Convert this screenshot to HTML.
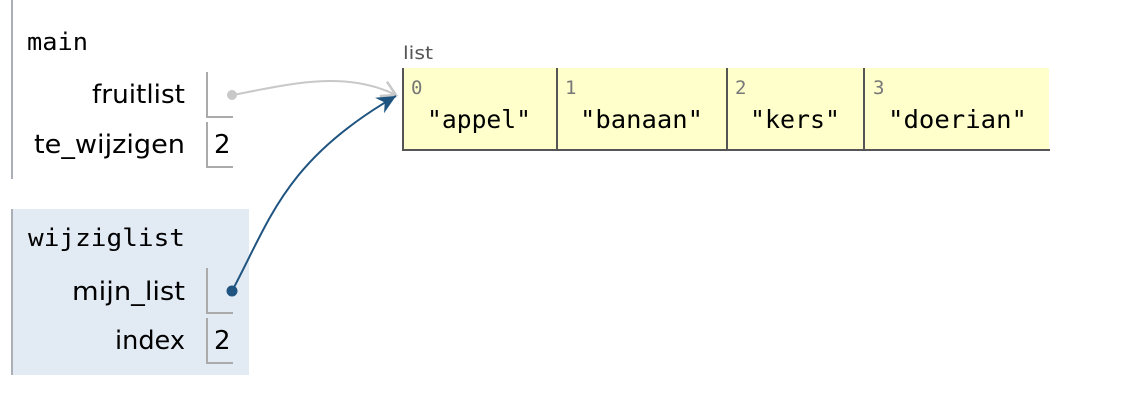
<!DOCTYPE html>
<html><head><style>html,body{margin:0;padding:0;background:#fff;width:1136px;height:418px;overflow:hidden}</style></head>
<body>
<svg width="1136" height="418" xmlns="http://www.w3.org/2000/svg">
<defs>
<marker id="ag" viewBox="0 0 20 20" markerWidth="20" markerHeight="20" refX="17" refY="10" orient="auto" markerUnits="userSpaceOnUse"><path d="M3,2 L17,10 L3,18" fill="none" stroke="#c8c8c8" stroke-width="2.5"/></marker>
<marker id="ab" viewBox="0 0 22 22" markerWidth="22" markerHeight="22" refX="20" refY="11" orient="auto" markerUnits="userSpaceOnUse"><path d="M1,2 L20,11 L1,20 L7,11 Z" fill="#1f5480"/></marker>
</defs>
<rect x="11" y="0" width="2" height="179" fill="#aab0b5"/>
<text x="27" y="50" font-family="DejaVu Sans Mono, Liberation Mono, monospace" font-size="24" textLength="61" lengthAdjust="spacingAndGlyphs">main</text>
<text x="185" y="103" text-anchor="end" font-family="DejaVu Sans, Liberation Sans, sans-serif" font-size="26" textLength="93" lengthAdjust="spacingAndGlyphs">fruitlist</text>
<text x="185" y="153" text-anchor="end" font-family="DejaVu Sans, Liberation Sans, sans-serif" font-size="26" textLength="151" lengthAdjust="spacingAndGlyphs">te_wijzigen</text>
<path d="M207,72 V117 H233" fill="none" stroke="#aaa" stroke-width="2"/>
<path d="M207,122 V167 H233" fill="none" stroke="#aaa" stroke-width="2"/>
<text x="214" y="153" font-family="DejaVu Sans, Liberation Sans, sans-serif" font-size="26">2</text>
<rect x="11" y="209" width="238" height="166" fill="#e2eaf4"/>
<rect x="11" y="209" width="2" height="166" fill="#aab0b5"/>
<text x="28" y="246" font-family="DejaVu Sans Mono, Liberation Mono, monospace" font-size="24" textLength="157" lengthAdjust="spacingAndGlyphs">wijziglist</text>
<text x="185" y="300" text-anchor="end" font-family="DejaVu Sans, Liberation Sans, sans-serif" font-size="26" textLength="113" lengthAdjust="spacingAndGlyphs">mijn_list</text>
<text x="185" y="349" text-anchor="end" font-family="DejaVu Sans, Liberation Sans, sans-serif" font-size="26" textLength="70" lengthAdjust="spacingAndGlyphs">index</text>
<path d="M207,268 V313 H233" fill="none" stroke="#aaa" stroke-width="2"/>
<path d="M207,318 V363 H233" fill="none" stroke="#aaa" stroke-width="2"/>
<text x="214" y="349" font-family="DejaVu Sans, Liberation Sans, sans-serif" font-size="26">2</text>
<text x="403" y="59" font-family="DejaVu Sans, Liberation Sans, sans-serif" font-size="18" fill="#555" textLength="30" lengthAdjust="spacingAndGlyphs">list</text>
<rect x="403" y="68" width="646" height="82" fill="#ffffcc"/>
<rect x="402" y="68" width="2" height="83" fill="#555"/>
<rect x="402" y="149" width="648" height="2" fill="#555"/>
<rect x="556" y="68" width="2" height="82" fill="#555"/>
<rect x="726" y="68" width="2" height="82" fill="#555"/>
<rect x="863" y="68" width="2" height="82" fill="#555"/>
<g font-family="DejaVu Sans Mono, Liberation Mono, monospace" font-size="19" fill="#777">
<text x="411" y="94">0</text><text x="565" y="94">1</text><text x="735" y="94">2</text><text x="873" y="94">3</text>
</g>
<g font-family="DejaVu Sans Mono, Liberation Mono, monospace" font-size="25" fill="#000">
<text x="427" y="128" textLength="104" lengthAdjust="spacingAndGlyphs">"appel"</text>
<text x="580" y="128" textLength="123" lengthAdjust="spacingAndGlyphs">"banaan"</text>
<text x="750" y="128" textLength="90" lengthAdjust="spacingAndGlyphs">"kers"</text>
<text x="888" y="128" textLength="139" lengthAdjust="spacingAndGlyphs">"doerian"</text>
</g>
<path d="M233,95 C290,84 345,70 396,95" fill="none" stroke="#c8c8c8" stroke-width="2" marker-end="url(#ag)"/>
<circle cx="232" cy="95" r="5" fill="#c8c8c8"/>
<path d="M232,291 C270,220 285,160 396,96" fill="none" stroke="#1f5480" stroke-width="2" marker-end="url(#ab)"/>
<circle cx="232" cy="291" r="5.5" fill="#1f5480"/>
</svg>
</body></html>
